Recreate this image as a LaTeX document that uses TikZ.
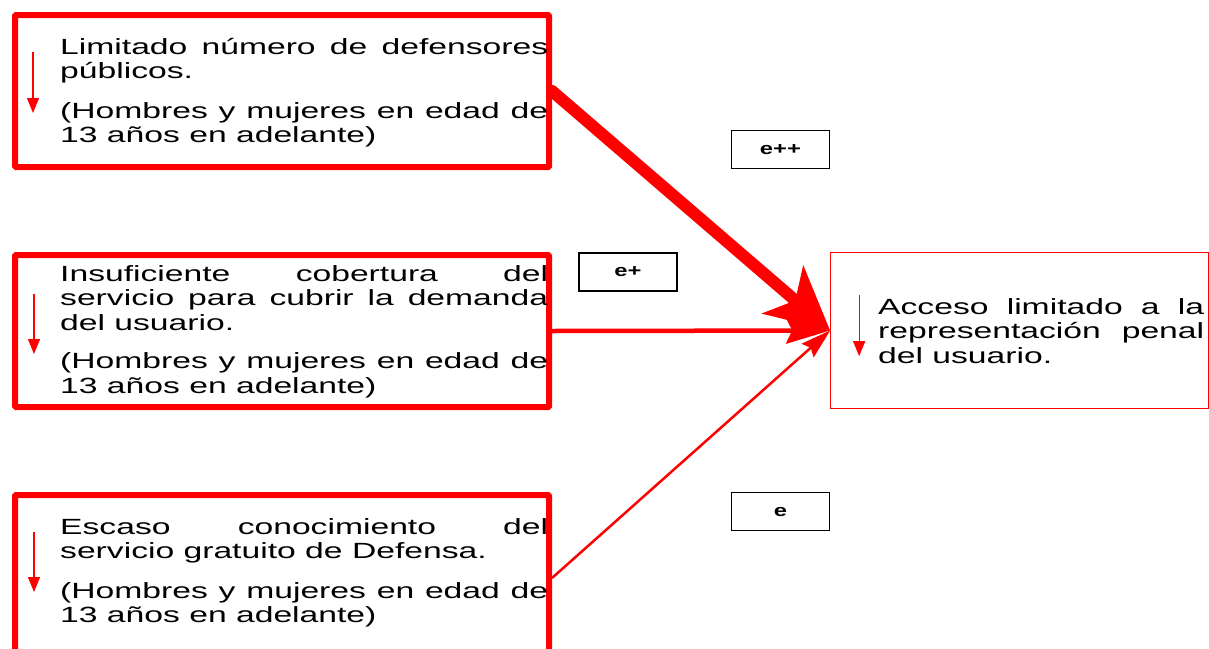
\documentclass[tikz,border=0pt]{standalone}
\usepackage{fontspec}
\setmainfont{Liberation Sans}[FakeStretch=1.53]
\newfontfamily\tagfont{Liberation Sans}[FakeStretch=1.4]
\usetikzlibrary{arrows.meta}

\begin{document}
\begin{tikzpicture}[x=1pt, y=-1pt]

    \tikzset{frame/.style={%
      draw=red,%
      line width=6pt,%
      rounded corners=1pt,%
      minimum width=534pt,%
      minimum height=152pt}%
    };

    \tikzset{target/.style={draw=red, line width=1.2pt, minimum width=377.5pt, minimum height=155.5pt}};

    \tikzset{tag/.style={draw, line width=1.2pt, minimum width=98pt, minimum height=38pt,
      font=\tagfont\bfseries\fontsize{17}{19}\selectfont}};

    \tikzset{boxtext/.style={anchor=base west, inner sep=0pt, text width=488pt,
      align=justify, font=\fontsize{22}{24.5}\selectfont}};

    \tikzset{downarrow/.style={red, line width=1.2pt, -{Triangle[length=15pt, width=12pt]}}};

    \useasboundingbox (0,0) rectangle (1209,648);

    %%%%%%%%%%
    % causes %
    %%%%%%%%%%
    \node[frame] (limitado) at (282, 91) {};
    \node[boxtext] (limitadotxt) at (60, 54) {Limitado número de defensores\linebreak públicos.\\[15pt](Hombres y mujeres en edad de\linebreak 13 años en adelante)};
    \draw[downarrow] ([shift={(21,40)}]limitado.north west) -- ++(0,61);

    \node[frame] (cobertura) at (282, 331) {};
    \node[boxtext] (coberturatxt) at (60, 281) {Insuficiente cobertura del\linebreak servicio para cubrir la demanda\linebreak del usuario.\\[14pt](Hombres y mujeres en edad de\linebreak 13 años en adelante)};
    \draw[downarrow] ([shift={(22,42)}]cobertura.north west) -- ++(0,60);

    \node[frame, minimum height=166pt] (conocimiento) at (282, 578) {};
    \node[boxtext] (conocimientotxt) at (60, 534) {Escaso conocimiento del\linebreak servicio gratuito de Defensa.\\[15pt](Hombres y mujeres en edad de\linebreak 13 años en adelante)};
    \draw[downarrow] ([shift={(22,40)}]conocimiento.north west) -- ++(0,60);

    %%%%%%%%%%
    % effect %
    %%%%%%%%%%
    \node[target] (acceso) at (1019.5, 330.5) {};
    \node[boxtext, text width=326pt] (accesotxt) at (878, 314) {Acceso limitado a la\linebreak representación penal\linebreak del usuario.};
    \draw[downarrow] ([shift={(29,43)}]acceso.north west) -- ++(0,61);

    %%%%%%%%%%
    % labels %
    %%%%%%%%%%
    \node[tag] (eplusplus) at (780.5, 149.5) {e++};
    \node[tag] (eplus) at (628, 272) {e+};
    \node[tag] (esingle) at (780.5, 511.5) {e};

    \draw [red, line width=12pt, line cap=round, -{Stealth[length=62pt, width=62pt, inset=16pt]}] (limitado.east) -- (acceso.west);
    \draw [red, line width=4.5pt, -{Stealth[length=44pt, width=26pt, inset=6pt]}] (cobertura.east) -- (acceso.west);
    \draw [red, line width=2.5pt, -{Stealth[length=30pt, width=18pt, inset=4pt]}] (conocimiento.east) -- (acceso.west);

  \end{tikzpicture}
\end{document}
